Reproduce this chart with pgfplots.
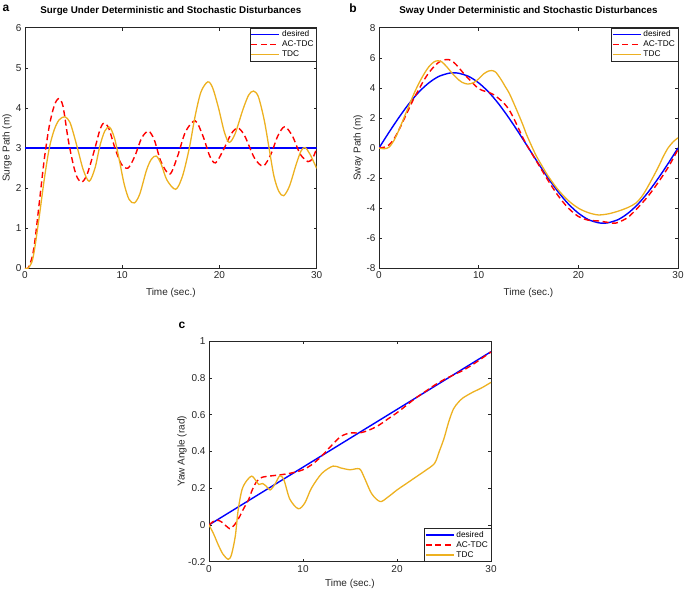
\documentclass[border=0pt]{standalone}
\usepackage{pgfplots}
\pgfplotsset{compat=1.18}
\usepackage{fontspec}
\setmainfont{Liberation Sans}
\definecolor{mgray}{rgb}{0.15,0.15,0.15}
\definecolor{mblue}{rgb}{0,0,1}
\definecolor{mred}{rgb}{1,0,0}
\definecolor{morange}{rgb}{0.929,0.694,0.125}
\pgfplotsset{
  legend image code/.code={\draw[#1] (0pt,0pt) -- (28pt,0pt);},
  matlab/.style={
    scale only axis,
    axis line style={draw=mgray, line width=0.5pt},
    tick style={draw=mgray, line width=0.5pt},
    tick align=inside,
    major tick length=3pt,
    ticklabel style={font=\fontsize{10}{11}\selectfont, text=mgray},
    label style={font=\fontsize{10}{11}\selectfont, text=mgray},
    title style={font=\bfseries\fontsize{9.8}{11}\selectfont, text=black},
    xmin=0, xmax=30, xtick={0,10,20,30},
    /pgf/number format/assume math mode=true,
    legend style={font=\fontsize{8.3}{9}\selectfont, draw=mgray,
      inner sep=1pt, row sep=-1.5pt, cells={anchor=west}},
    legend cell align=left,
  },
  desired/.style={draw=mblue, color=mblue, line width=1.4pt, solid},
  actdc/.style={draw=mred, color=mred, line width=1.4pt, dash pattern=on 6pt off 3.5pt},
  tdc/.style={draw=morange, color=morange, line width=1.3pt, solid},
}
\begin{document}
\begin{tikzpicture}
\useasboundingbox (0pt,0pt) rectangle (685pt,590pt);
% panel letters
\node[font=\bfseries\fontsize{12}{13}\selectfont, anchor=center] at (6pt,582pt) {a};
\node[font=\bfseries\fontsize{12}{13}\selectfont, anchor=center] at (353pt,582pt) {b};
\node[font=\bfseries\fontsize{12}{13}\selectfont, anchor=center] at (182pt,265pt) {c};

% ---------------- panel a
\begin{axis}[matlab, at={(25pt,321.7pt)}, anchor=south west,
  width=291.7pt, height=240.6pt,
  ymin=0, ymax=6, ytick={0,1,2,3,4,5,6},
  title={Surge Under Deterministic and Stochastic Disturbances},
  title style={at={(axis description cs:0.5,1.035)}, anchor=base},
  xlabel={Time (sec.)}, ylabel={Surge Path (m)},
  xlabel style={at={(axis description cs:0.5,-0.101)}, anchor=center},
  ylabel style={at={(axis description cs:-0.062,0.5)}, anchor=center},
  legend style={at={(axis description cs:1,1)}, anchor=north east},
]
\addplot[desired] coordinates {(0,3) (30,3)};
\addlegendentry{desired}
\addplot[actdc, smooth] coordinates {
(0,0) (0.3,0) (0.7,0.25) (1,0.65) (1.5,1.7) (2,2.75) (2.5,3.55) (3,4.05) (3.45,4.23)
(3.9,4.05) (4.45,3.2) (5,2.55) (5.4,2.25) (5.85,2.15) (6.4,2.35) (7.2,3.0) (7.7,3.45)
(8.1,3.62) (8.6,3.5) (9.25,3.0) (9.9,2.6) (10.6,2.5) (11.3,2.8) (12.0,3.25) (12.7,3.42)
(13.3,3.2) (14.0,2.65) (14.9,2.35) (15.7,2.8) (16.5,3.4) (17.5,3.68) (18.3,3.3) (19.0,2.8)
(19.6,2.63) (20.4,2.95) (21.2,3.35) (21.9,3.5) (22.6,3.3) (23.6,2.75) (24.5,2.55) (25.3,2.85)
(26.0,3.3) (26.7,3.53) (27.5,3.3) (28.3,2.85) (29.1,2.66) (29.6,2.75) (30,3.0)};
\addlegendentry{AC-TDC}
\addplot[tdc, smooth] coordinates {
(0,0) (0.3,0) (0.7,0.15) (1,0.5) (1.5,1.35) (2,2.25) (2.5,3.0) (3,3.45) (3.5,3.7)
(4.1,3.78) (4.6,3.65) (5,3.35) (5.5,2.9) (6,2.45) (6.6,2.17) (7.2,2.5) (7.7,3.05)
(8.2,3.42) (8.7,3.52) (9.2,3.25) (9.7,2.7) (10.2,2.1) (10.7,1.72) (11.25,1.63) (11.8,1.85)
(12.5,2.45) (13.0,2.72) (13.5,2.8) (14.0,2.6) (14.6,2.2) (15.5,1.97) (16.2,2.3) (16.9,3.0)
(17.5,3.8) (18.1,4.4) (18.8,4.65) (19.3,4.5) (19.9,4.0) (20.5,3.4) (21.0,3.14) (21.6,3.35)
(22.4,3.95) (23.0,4.32) (23.5,4.42) (24.0,4.28) (24.6,3.7) (25.1,3.0) (25.6,2.3) (26.1,1.92)
(26.6,1.81) (27.2,2.05) (27.9,2.6) (28.4,2.93) (28.8,3.01) (29.3,2.85) (30,2.49)};
\addlegendentry{TDC}
\end{axis}

% ---------------- panel b
\begin{axis}[matlab, at={(379pt,321.7pt)}, anchor=south west,
  width=299pt, height=240.6pt,
  ymin=-8, ymax=8, ytick={-8,-6,-4,-2,0,2,4,6,8},
  title={Sway Under Deterministic and Stochastic Disturbances},
  title style={at={(axis description cs:0.5,1.035)}, anchor=base},
  xlabel={Time (sec.)}, ylabel={Sway Path (m)},
  xlabel style={at={(axis description cs:0.5,-0.101)}, anchor=center},
  ylabel style={at={(axis description cs:-0.07,0.5)}, anchor=center},
  legend style={at={(axis description cs:1,1)}, anchor=north east},
]
\addplot[desired, smooth] coordinates {
(0,0) (1,1.04) (2,2.03) (3,2.94) (4,3.72) (5,4.33) (6,4.76) (7,4.97) (7.5,5) (8,4.97)
(9,4.76) (10,4.33) (11,3.72) (12,2.94) (13,2.03) (14,1.04) (15,0) (16,-1.04) (17,-2.03)
(18,-2.94) (19,-3.72) (20,-4.33) (21,-4.76) (22,-4.97) (22.5,-5) (23,-4.97) (24,-4.76)
(25,-4.33) (26,-3.72) (27,-2.94) (28,-2.03) (29,-1.04) (30,0)};
\addlegendentry{desired}
\addplot[actdc, smooth] coordinates {
(0,0) (0.5,0.05) (1,0.2) (1.5,0.6) (2,1.2) (2.5,1.9) (3,2.6) (3.5,3.3) (4,3.9) (4.5,4.5)
(5,5.0) (5.5,5.4) (6,5.7) (6.5,5.85) (7,5.88) (7.5,5.7) (8,5.35) (8.5,4.95) (9,4.6)
(9.5,4.25) (10,3.95) (10.5,3.8) (11,3.7) (11.5,3.55) (12,3.3) (12.5,3.0) (13,2.6)
(13.5,2.0) (14,1.3) (14.5,0.6) (15,0) (16,-1.1) (17,-2.2) (18,-3.2) (19,-4.0) (20,-4.55)
(21,-4.8) (22,-4.85) (23,-4.95) (23.5,-5.0) (24,-4.95) (25,-4.6) (26,-3.95) (27,-3.2)
(28,-2.3) (29,-1.3) (30,-0.1)};
\addlegendentry{AC-TDC}
\addplot[tdc, smooth] coordinates {
(0,0) (0.5,-0.05) (1,0.05) (1.5,0.5) (2,1.2) (2.5,2.0) (3,2.8) (3.5,3.6) (4,4.3)
(4.5,4.9) (5,5.4) (5.5,5.72) (5.9,5.8) (6.3,5.73) (6.8,5.4) (7.3,5.0) (7.8,4.65)
(8.3,4.38) (8.9,4.25) (9.5,4.35) (10,4.6) (10.5,4.93) (11,5.12) (11.3,5.15) (11.7,5.05)
(12.2,4.6) (12.7,4.05) (13.1,3.6) (13.8,2.55) (14.4,1.6) (14.8,0.9) (15.3,0.15) (15.8,-0.55)
(16.5,-1.35) (17,-1.9) (18,-2.8) (19,-3.5) (20,-4.0) (21,-4.3) (22,-4.45) (23,-4.38)
(24,-4.2) (25,-3.95) (25.8,-3.65) (26.5,-3.1) (27.2,-2.3) (28,-1.3) (28.5,-0.6) (29,0.0)
(29.5,0.4) (30,0.68)};
\addlegendentry{TDC}
\end{axis}

% ---------------- panel c
\begin{axis}[matlab, at={(209pt,28.3pt)}, anchor=south west,
  width=282pt, height=220.7pt,
  ymin=-0.2, ymax=1, ytick={-0.2,0,0.2,0.4,0.6,0.8,1},
  xlabel={Time (sec.)}, ylabel={Yaw Angle (rad)},
  xlabel style={at={(axis description cs:0.5,-0.101)}, anchor=center},
  ylabel style={at={(axis description cs:-0.096,0.5)}, anchor=center},
  legend style={at={(axis description cs:1,0)}, anchor=south east},
]
\addplot[desired] coordinates {(0,0) (30,0.942)};
\addlegendentry{desired}
\addplot[actdc, smooth] coordinates {
(0,0) (0.5,0.02) (1,0.025) (1.5,0.01) (2.2,-0.02) (2.7,0.0) (3.2,0.04) (3.7,0.09)
(4.2,0.136) (4.6,0.19) (5.07,0.236) (5.6,0.258) (6.5,0.266) (7.55,0.272) (8.3,0.278)
(9,0.285) (10,0.30) (11,0.33) (12,0.375) (13,0.43) (14,0.48) (15,0.50) (16,0.50)
(17,0.515) (18,0.54) (19,0.575) (20,0.61) (21,0.65) (22,0.69) (23,0.725) (24,0.76)
(25,0.79) (26,0.815) (27,0.84) (28,0.87) (29,0.905) (30,0.94)};
\addlegendentry{AC-TDC}
\addplot[tdc, smooth] coordinates {
(0,0) (0.5,-0.05) (1,-0.11) (1.5,-0.16) (2.06,-0.187) (2.4,-0.16) (2.8,-0.06) (3.1,0.08)
(3.5,0.19) (4.0,0.24) (4.55,0.265) (5.0,0.24) (5.3,0.22) (5.7,0.225) (6.1,0.21) (6.5,0.19)
(7.0,0.22) (7.55,0.268) (8.0,0.24) (8.6,0.14) (9.5,0.088) (10.2,0.12) (10.9,0.2)
(12.0,0.28) (13.2,0.32) (14.0,0.31) (15,0.30) (16.0,0.305) (16.5,0.26) (17.3,0.17)
(18.2,0.127) (19,0.15) (20,0.19) (21,0.225) (22,0.26) (23,0.295) (24,0.335) (24.5,0.4)
(25,0.47) (25.5,0.56) (26,0.63) (26.5,0.665) (27,0.69) (28,0.72) (29,0.745) (30,0.775)};
\addlegendentry{TDC}
\end{axis}
\end{tikzpicture}
\end{document}
